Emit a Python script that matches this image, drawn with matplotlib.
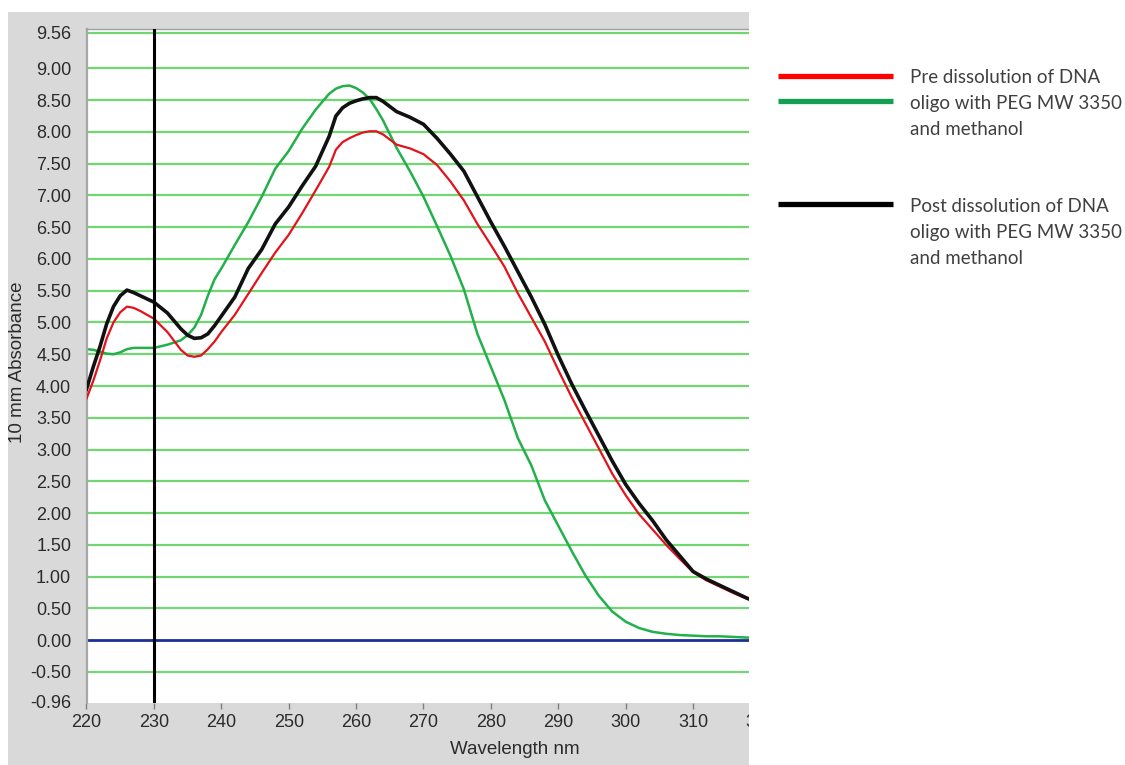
import matplotlib
matplotlib.use('Agg')
import matplotlib.pyplot as plt
from matplotlib.patches import Rectangle
from matplotlib.lines import Line2D

# spectra (nm, absorbance at 10 mm)
wavelength = [220, 221, 222, 223, 224, 225, 226, 227, 228, 229, 230, 232, 234, 235,
              236, 237, 238, 239, 240, 242, 244, 246, 248, 250, 252, 254, 256, 257,
              258, 259, 260, 261, 262, 263, 264, 266, 268, 270, 272, 274, 276, 278,
              280, 282, 284, 286, 288, 290, 292, 294, 296, 298, 300, 302, 304, 306,
              308, 310, 312, 314, 316, 318, 320]

post_black = [3.95, 4.30, 4.62, 4.98, 5.25, 5.42, 5.51, 5.47, 5.42, 5.37, 5.32, 5.15, 4.90, 4.80,
              4.75, 4.76, 4.82, 4.95, 5.10, 5.40, 5.85, 6.15, 6.55, 6.82, 7.15, 7.46, 7.93, 8.25,
              8.38, 8.45, 8.49, 8.52, 8.54, 8.54, 8.48, 8.32, 8.23, 8.12, 7.90, 7.65, 7.38, 6.98,
              6.58, 6.20, 5.80, 5.40, 4.97, 4.48, 4.03, 3.62, 3.22, 2.82, 2.45, 2.15, 1.88, 1.58,
              1.33, 1.08, 0.96, 0.86, 0.76, 0.66, 0.58]

pre_red = [3.80, 4.08, 4.40, 4.75, 5.00, 5.16, 5.25, 5.23, 5.18, 5.12, 5.06, 4.85, 4.57, 4.48,
           4.46, 4.48, 4.58, 4.70, 4.85, 5.12, 5.45, 5.78, 6.10, 6.38, 6.72, 7.08, 7.45, 7.72,
           7.84, 7.90, 7.95, 7.99, 8.01, 8.01, 7.96, 7.80, 7.74, 7.65, 7.48, 7.22, 6.92, 6.55,
           6.22, 5.88, 5.46, 5.08, 4.70, 4.25, 3.82, 3.42, 3.02, 2.62, 2.28, 1.98, 1.74, 1.50,
           1.28, 1.07, 0.94, 0.84, 0.74, 0.65, 0.58]

pre_green = [4.58, 4.57, 4.54, 4.51, 4.50, 4.53, 4.58, 4.60, 4.60, 4.60, 4.60, 4.65, 4.72, 4.80,
             4.92, 5.12, 5.42, 5.68, 5.85, 6.22, 6.58, 6.98, 7.42, 7.70, 8.05, 8.35, 8.60, 8.68,
             8.72, 8.73, 8.69, 8.62, 8.52, 8.36, 8.18, 7.75, 7.38, 6.98, 6.52, 6.05, 5.52, 4.82,
             4.30, 3.78, 3.18, 2.75, 2.20, 1.80, 1.40, 1.02, 0.70, 0.45, 0.29, 0.19, 0.13, 0.10,
             0.08, 0.07, 0.06, 0.06, 0.05, 0.04, 0.03]

y_ticks = [9.56, 9.00, 8.50, 8.00, 7.50, 7.00, 6.50, 6.00, 5.50, 5.00, 4.50, 4.00, 3.50,
           3.00, 2.50, 2.00, 1.50, 1.00, 0.50, 0.00, -0.50, -0.96]
x_ticks = [220, 230, 240, 250, 260, 270, 280, 290, 300, 310, 320]
marker_nm = 230

legend_pre = ['Pre dissolution of DNA', 'oligo with PEG MW 3350', 'and methanol']
legend_post = ['Post dissolution of DNA', 'oligo with PEG MW 3350', 'and methanol']

W, H = 1125, 765
plt.rcParams['font.family'] = ['Liberation Sans', 'DejaVu Sans']

fig = plt.figure(figsize=(W / 100, H / 100), dpi=100)
fig.patch.set_facecolor('white')

def fx(px):
    return px / W

def fy(py):
    return 1 - py / H

# grey instrument panel behind the plot
fig.patches.append(Rectangle((fx(8), 0), fx(741), 753 / H, transform=fig.transFigure,
                             facecolor='#d9d9d9', edgecolor='none', zorder=-1))

ax = fig.add_axes([fx(86.5), 62 / H, fx(760.5 - 86.5), (736 - 62) / H])
ax.set_facecolor('white')
ax.set_xlim(220, 320)
ax.set_ylim(-0.99, 9.62)

# horizontal green grid at every labelled level except 0 and the bottom
for v in y_ticks:
    if v not in (0.0, -0.96):
        ax.axhline(v, color='#72d672', linewidth=1.6, zorder=1)
ax.axhline(0, color='#1c2f96', linewidth=2.0, zorder=1)
ax.axvline(marker_nm, color='black', linewidth=2.2, zorder=4)

ax.plot(wavelength, pre_green, color='#22b04a', linewidth=1.8, zorder=2)
ax.plot(wavelength, pre_red, color='#e3121b', linewidth=1.6, zorder=3)
ax.plot(wavelength, post_black, color='#111111', linewidth=2.6, zorder=3)

ax.set_yticks(y_ticks)
ax.set_yticklabels([f'{v:.2f}' for v in y_ticks])
ax.set_xticks(x_ticks)
ax.tick_params(axis='y', length=0, pad=11, labelsize=13, labelcolor='#2b2b2b')
ax.tick_params(axis='x', length=4.5, width=1, color='#808080', direction='out',
               pad=3.5, labelsize=13, labelcolor='#2b2b2b')

for side in ('right', 'bottom'):
    ax.spines[side].set_visible(False)
ax.spines['left'].set_color('#a8a8a8')
ax.spines['left'].set_linewidth(1.6)
ax.spines['top'].set_color('#a0a0a0')
ax.spines['top'].set_linewidth(1.0)

fig.text(fx(515), fy(750), 'Wavelength nm', ha='center', va='center',
         fontsize=13.5, color='#2b2b2b')
fig.text(fx(18), fy(362), '10 mm Absorbance', ha='center', va='center',
         rotation=90, fontsize=13.5, color='#2b2b2b')

# white area on the right: the panel is cut off there
fig.patches.append(Rectangle((fx(749), 0), fx(W - 749), 1, transform=fig.transFigure,
                             facecolor='white', edgecolor='none', zorder=5))

# legend
for y, col in ((76, '#ff0000'), (101, '#13a052'), (204, '#000000')):
    fig.add_artist(Line2D([fx(778), fx(893)], [fy(y), fy(y)], color=col,
                          linewidth=3.8, solid_capstyle='butt', zorder=6))

for base, lines in ((83, legend_pre), (212, legend_post)):
    for i, t in enumerate(lines):
        fig.text(fx(910), fy(base + 26 * i), t, ha='left', va='baseline',
                 fontsize=13.5, color='#404040', family='Lato', zorder=7)

fig.savefig('out.png', dpi=100)
